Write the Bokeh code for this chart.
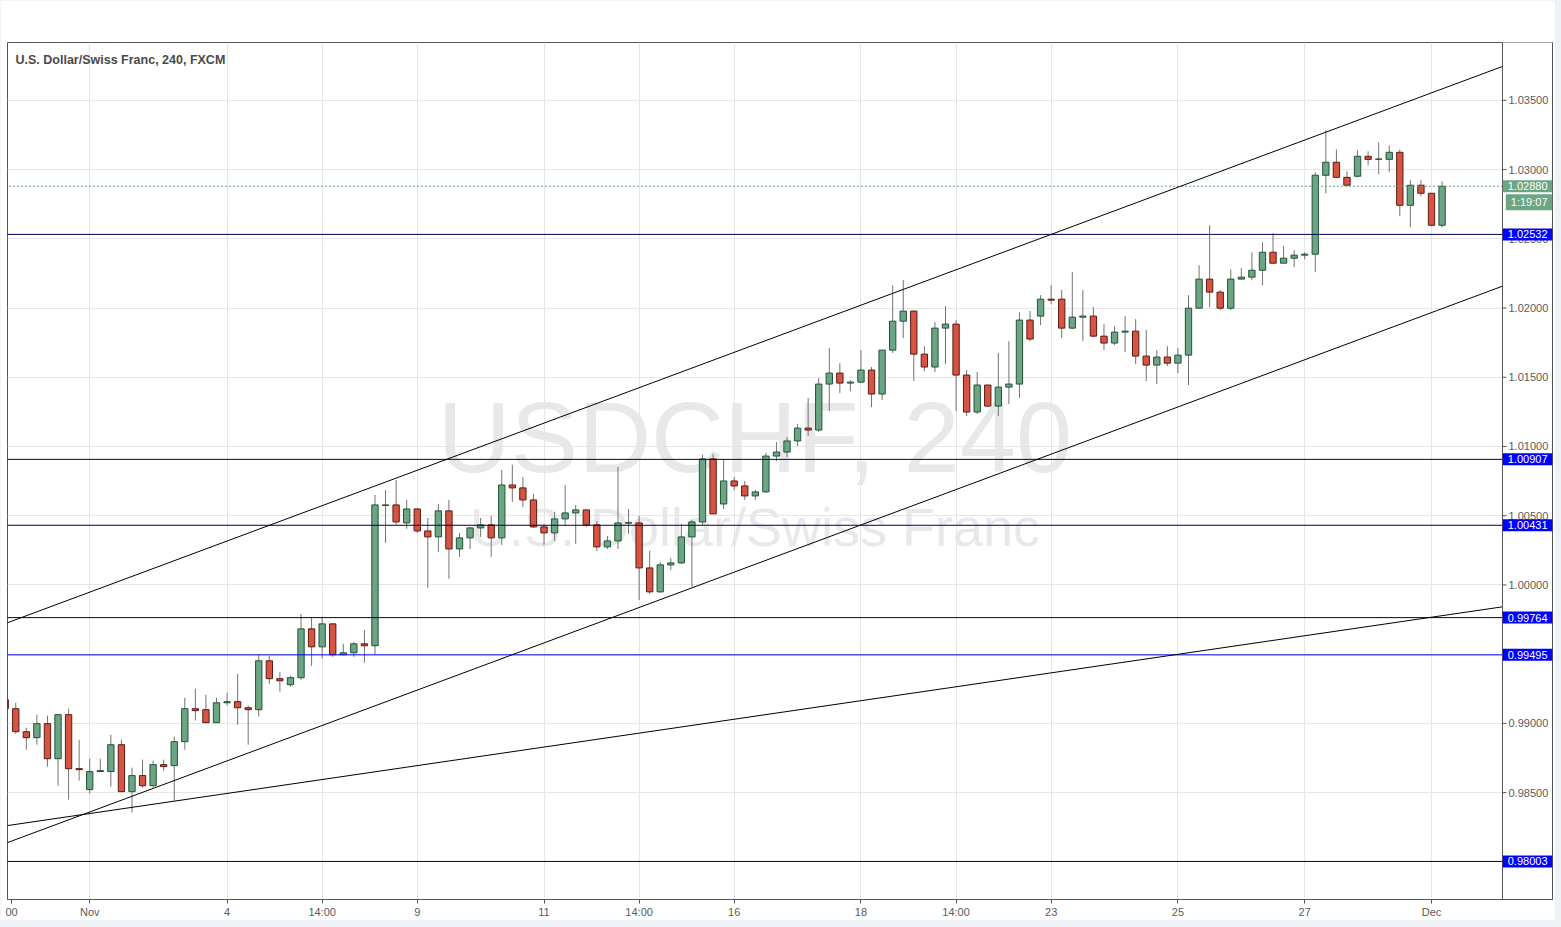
import numpy as np
from bokeh.plotting import figure
from bokeh.models import FixedTicker, Span, Label, NumeralTickFormatter, Range1d
from bokeh.embed import file_html
from bokeh.resources import INLINE
from bokeh.core.properties import value

# ---------------- data (USD/CHF, 4h candles) ----------------
open_ = [0.99171, 0.99106, 0.98940, 0.98897, 0.98998, 0.98745, 0.99063, 0.98673, 0.98522, 0.98652,
         0.98652, 0.98846, 0.98507, 0.98623, 0.98550, 0.98702, 0.98695, 0.98868, 0.99106, 0.99099,
         0.99005, 0.99149, 0.99157, 0.99113, 0.99099, 0.99452, 0.99323, 0.99279, 0.99330, 0.99683,
         0.99553, 0.99719, 0.99496, 0.99510, 0.99575, 0.99561, 1.00574, 1.00578, 1.00448, 1.00549,
         1.00390, 1.00347, 1.00535, 1.00260, 1.00340, 1.00412, 1.00434, 1.00340, 1.00722, 1.00701,
         1.00614, 1.00419, 1.00376, 1.00477, 1.00520, 1.00542, 1.00434, 1.00275, 1.00318, 1.00446,
         1.00448, 1.00123, 0.99950, 1.00145, 1.00159, 1.00347, 1.00455, 1.00910, 1.00585, 1.00751,
         1.00715, 1.00643, 1.00672, 1.00931, 1.00960, 1.01040, 1.01133, 1.01119, 1.01451, 1.01530,
         1.01458, 1.01465, 1.01552, 1.01379, 1.01696, 1.01905, 1.01978, 1.01667, 1.01574, 1.01855,
         1.01884, 1.01516, 1.01249, 1.01444, 1.01292, 1.01429, 1.01451, 1.01913, 1.01942, 1.02064,
         1.02064, 1.01855, 1.01934, 1.01942, 1.01797, 1.01747, 1.01826, 1.01833, 1.01653, 1.01588,
         1.01646, 1.01602, 1.01660, 1.01999, 1.02209, 1.02115, 1.01999, 1.02209, 1.02223, 1.02273,
         1.02403, 1.02324, 1.02360, 1.02382, 1.02389, 1.02959, 1.03053, 1.02944, 1.02952, 1.03096,
         1.03074, 1.03074, 1.03125, 1.02742, 1.02887, 1.02829, 1.02598]
high = [0.99193, 0.99149, 0.98969, 0.99063, 0.99056, 0.99063, 0.99106, 0.98882, 0.98745, 0.98745,
        0.98918, 0.98882, 0.98680, 0.98738, 0.98731, 0.98738, 0.98904, 0.99185, 0.99250, 0.99207,
        0.99185, 0.99222, 0.99359, 0.99128, 0.99496, 0.99488, 0.99373, 0.99344, 0.99791, 0.99763,
        0.99770, 0.99719, 0.99575, 0.99589, 0.99676, 1.00650, 1.00686, 1.00758, 1.00614, 1.00549,
        1.00484, 1.00585, 1.00614, 1.00376, 1.00419, 1.00484, 1.00499, 1.00830, 1.00867, 1.00780,
        1.00657, 1.00441, 1.00527, 1.00722, 1.00578, 1.00542, 1.00462, 1.00354, 1.00852, 1.00549,
        1.00499, 1.00246, 1.00167, 1.00196, 1.00441, 1.00470, 1.00939, 1.00946, 1.00903, 1.00780,
        1.00751, 1.00686, 1.00953, 1.01032, 1.01069, 1.01162, 1.01350, 1.01494, 1.01711, 1.01602,
        1.01480, 1.01696, 1.01574, 1.01696, 1.02165, 1.02201, 1.01985, 1.01725, 1.01898, 1.02014,
        1.01913, 1.01552, 1.01538, 1.01444, 1.01675, 1.01761, 1.01970, 1.01978, 1.02093, 1.02165,
        1.02129, 1.02259, 1.02129, 1.02006, 1.01884, 1.01869, 1.01942, 1.01920, 1.01841, 1.01696,
        1.01725, 1.01711, 1.02093, 1.02310, 1.02598, 1.02129, 1.02281, 1.02288, 1.02403, 1.02475,
        1.02540, 1.02447, 1.02418, 1.02403, 1.02981, 1.03284, 1.03146, 1.02988, 1.03139, 1.03132,
        1.03197, 1.03175, 1.03146, 1.02923, 1.02923, 1.02829, 1.02916]
low = [0.99084, 0.98926, 0.98810, 0.98846, 0.98688, 0.98550, 0.98450, 0.98587, 0.98493, 0.98652,
       0.98543, 0.98507, 0.98356, 0.98536, 0.98536, 0.98659, 0.98442, 0.98810, 0.99020, 0.99005,
       0.99005, 0.99128, 0.98991, 0.98846, 0.99048, 0.99286, 0.99229, 0.99265, 0.99315, 0.99416,
       0.99467, 0.99481, 0.99496, 0.99481, 0.99438, 0.99496, 1.00304, 1.00434, 1.00405, 1.00376,
       0.99979, 1.00239, 1.00044, 1.00203, 1.00260, 1.00347, 1.00203, 1.00289, 1.00600, 1.00563,
       1.00412, 1.00289, 1.00318, 1.00426, 1.00297, 1.00419, 1.00246, 1.00260, 1.00260, 1.00369,
       0.99892, 0.99936, 0.99943, 1.00109, 1.00152, 0.99986, 1.00434, 1.00513, 1.00549, 1.00686,
       1.00614, 1.00614, 1.00665, 1.00895, 1.00924, 1.01004, 1.01076, 1.01105, 1.01256, 1.01386,
       1.01400, 1.01458, 1.01285, 1.01335, 1.01675, 1.01783, 1.01473, 1.01545, 1.01538, 1.01595,
       1.01256, 1.01220, 1.01234, 1.01285, 1.01220, 1.01307, 1.01350, 1.01761, 1.01877, 1.02028,
       1.01783, 1.01848, 1.01761, 1.01790, 1.01696, 1.01732, 1.01682, 1.01595, 1.01473, 1.01451,
       1.01581, 1.01530, 1.01444, 1.01999, 1.02006, 1.01985, 1.01985, 1.02209, 1.02201, 1.02165,
       1.02324, 1.02324, 1.02295, 1.02353, 1.02259, 1.02829, 1.02944, 1.02880, 1.02944, 1.03031,
       1.02966, 1.02981, 1.02663, 1.02584, 1.02807, 1.02591, 1.02584]
close = [0.99106, 0.98940, 0.98897, 0.98998, 0.98745, 0.99063, 0.98673, 0.98666, 0.98652, 0.98659,
         0.98846, 0.98507, 0.98623, 0.98550, 0.98702, 0.98688, 0.98868, 0.99106, 0.99092, 0.99005,
         0.99149, 0.99157, 0.99113, 0.99099, 0.99452, 0.99323, 0.99308, 0.99330, 0.99683, 0.99553,
         0.99719, 0.99496, 0.99510, 0.99575, 0.99561, 1.00578, 1.00578, 1.00455, 1.00549, 1.00390,
         1.00347, 1.00535, 1.00260, 1.00340, 1.00412, 1.00434, 1.00340, 1.00722, 1.00701, 1.00614,
         1.00419, 1.00376, 1.00477, 1.00520, 1.00542, 1.00434, 1.00275, 1.00318, 1.00448, 1.00450,
         1.00123, 0.99950, 1.00145, 1.00159, 1.00347, 1.00455, 1.00910, 1.00513, 1.00751, 1.00715,
         1.00643, 1.00672, 1.00931, 1.00960, 1.01040, 1.01133, 1.01119, 1.01451, 1.01530, 1.01458,
         1.01465, 1.01552, 1.01379, 1.01696, 1.01905, 1.01978, 1.01667, 1.01574, 1.01855, 1.01884,
         1.01516, 1.01249, 1.01444, 1.01292, 1.01429, 1.01451, 1.01913, 1.01776, 1.02064, 1.02057,
         1.01855, 1.01934, 1.01942, 1.01797, 1.01747, 1.01826, 1.01833, 1.01653, 1.01588, 1.01646,
         1.01602, 1.01660, 1.01999, 1.02209, 1.02115, 1.01999, 1.02209, 1.02223, 1.02273, 1.02403,
         1.02324, 1.02360, 1.02382, 1.02389, 1.02959, 1.03053, 1.02944, 1.02887, 1.03096, 1.03074,
         1.03077, 1.03125, 1.02742, 1.02887, 1.02829, 1.02598, 1.02880]

x_tick_index = [0.6, 8, 21, 30, 39, 51, 60, 69, 81, 90, 99, 111, 123, 135]
x_tick_labels = ["00", "Nov", "4", "14:00", "9", "11", "14:00", "16", "18", "14:00", "23", "25", "27", "Dec"]
y_ticks = [0.985, 0.990, 0.995, 1.000, 1.005, 1.010, 1.015, 1.020, 1.025, 1.030, 1.035]

level_prices = [1.02532, 1.00907, 1.00431, 0.99764, 0.99495, 0.98003]
level_labels = ["1.02532", "1.00907", "1.00431", "0.99764", "0.99495", "0.98003"]
level_colors = ["#000050", "#000050", "#000050", "#000050", "#0000ff", "#000050"]
tag_color = "#0000ff"
last_price = 1.02880
last_price_label = "1.02880"
countdown_label = "1:19:07"

# trend-line anchors: (bar index, price)
upper_channel = ([0.218, 141.72], [0.99727, 1.03745])
lower_channel = ([0.218, 141.72], [0.98139, 1.02158])
support_line = ([0.218, 141.72], [0.98262, 0.99842])

title_text = "U.S. Dollar/Swiss Franc, 240, FXCM"
watermark_1 = "USDCHF, 240"
watermark_2 = "U.S. Dollar/Swiss Franc"

# ---------------- figure ----------------
bar_px = 10.565                 # pixels per bar
x_start = 0.218
axis_idx = 141.72               # where the price scale begins
x_end = axis_idx + 50 / bar_px  # right edge of the price-scale strip
y_start, y_end = 0.97728, 1.03918

p = figure(width=1555, height=920, output_backend="svg", toolbar_location=None,
           y_axis_location="right", x_range=Range1d(x_start, x_end),
           y_range=Range1d(y_start, y_end), min_border_left=7, min_border_top=42,
           min_border_right=3, min_border_bottom=20, title=None)
p.background_fill_color = "#ffffff"
p.border_fill_color = "#ffffff"
p.outline_line_color = "#555555"
p.outline_line_width = 1

# grid
p.xgrid.ticker = FixedTicker(ticks=[t for t in x_tick_index if t >= 1])
p.ygrid.ticker = FixedTicker(ticks=y_ticks)
p.xgrid.grid_line_color = "#e6e6e6"
p.ygrid.grid_line_color = "#e6e6e6"

# axes
p.xaxis.ticker = FixedTicker(ticks=x_tick_index)
p.xaxis.major_label_overrides = {t: l for t, l in zip(x_tick_index, x_tick_labels)}
p.yaxis.ticker = FixedTicker(ticks=y_ticks)
p.yaxis.formatter = NumeralTickFormatter(format="0.00000")
for ax in (p.xaxis[0], p.yaxis[0]):
    ax.axis_line_color = "#555555"
    ax.major_tick_line_color = "#555555"
    ax.major_tick_in = 0
    ax.minor_tick_out = 0
    ax.minor_tick_in = 0
    ax.major_label_text_font = "Liberation Sans"
    ax.major_label_text_font_size = "11px"
    ax.major_label_text_color = "#5a5a5a"
p.xaxis.major_tick_out = 4
p.xaxis.major_label_standoff = 2
# price labels sit inside the 50px price strip, to the right of the price-scale line
p.yaxis.major_tick_out = 0
p.yaxis.major_label_standoff = -44

# white price-scale strip (hides grid there)
p.quad(left=[axis_idx], right=[x_end + 2], bottom=[y_start - 1], top=[y_end + 1],
       fill_color="#ffffff", line_color=None)

# watermark
x_mid = (x_start + axis_idx) / 2
p.text(x=[x_mid], y=[1.01069], text=[watermark_1], text_align="center", text_baseline="middle",
       text_font=value("Liberation Sans"), text_font_size="101px", text_color="#e8e8e8", level="image")
p.text(x=[x_mid], y=[1.00416], text=[watermark_2], text_align="center", text_baseline="middle",
       text_font=value("Liberation Sans"), text_font_size="54px", text_color="#e8e8e8", level="image")

# candles
idx = np.arange(len(open_))
o = np.array(open_); h = np.array(high); l = np.array(low); c = np.array(close)
inc = c >= o
dec = ~inc
p.segment(idx, h, idx, l, line_color="#737375", line_width=1)
p.vbar(x=idx[inc], top=c[inc], bottom=o[inc], width=0.6,
       fill_color="#6ba583", line_color="#225437", line_width=1)
p.vbar(x=idx[dec], top=o[dec], bottom=c[dec], width=0.6,
       fill_color="#d75442", line_color="#5b1a13", line_width=1)

# horizontal levels (stop at the price scale)
n_lv = len(level_prices)
p.segment(x0=[x_start - 1] * n_lv, y0=level_prices, x1=[axis_idx] * n_lv, y1=level_prices,
          line_color=level_colors, line_width=1)
p.segment(x0=[x_start - 1], y0=[last_price], x1=[axis_idx], y1=[last_price],
          line_color="#6b9e82", line_width=1, line_dash="2 2")

# trend lines
def extend_left(anchor):
    xs, ys = anchor
    k = (ys[1] - ys[0]) / (xs[1] - xs[0])
    ex = [xs[0] - 5, xs[1]]
    return ex, [ys[0] + k * (e - xs[0]) for e in ex]

for anchor in (upper_channel, lower_channel, support_line):
    ex, ey = extend_left(anchor)
    p.line(ex, ey, line_color="#000000", line_width=1)

# price-scale line and its short ticks
p.add_layout(Span(location=axis_idx, dimension="height", line_color="#555555", line_width=1))
n_t = len(y_ticks)
p.segment(x0=[axis_idx] * n_t, y0=y_ticks, x1=[axis_idx + 4 / bar_px] * n_t, y1=y_ticks,
          line_color="#555555", line_width=1)

# title
p.add_layout(Label(x=x_start, y=1.03789, x_offset=8, text=title_text, text_align="left",
                   text_baseline="middle", text_font="Liberation Sans", text_font_style="bold",
                   text_font_size="12.5px", text_color="#4a4a4a"))

# price tags on the price scale
def tag(price, txt, color, y_off=0):
    p.add_layout(Label(x=axis_idx, y=price, x_offset=50, y_offset=y_off, text=txt,
                       text_align="right", text_baseline="middle", text_font="Liberation Sans",
                       text_font_size="11px", text_color="#ffffff",
                       background_fill_color=color, background_fill_alpha=1.0,
                       padding=(5, 2)))

for lv, lt in zip(level_prices, level_labels):
    tag(lv, lt, tag_color)
tag(last_price, last_price_label, "#6ba583")
tag(last_price, countdown_label, "#6ba583", y_off=-16)

template = """
{% block postamble %}<style>html, body { background-color: #eef1f6; }</style>{% endblock %}
"""
html = file_html(p, INLINE, title="USDCHF", template=template)
open("out.html", "w").write(html)
